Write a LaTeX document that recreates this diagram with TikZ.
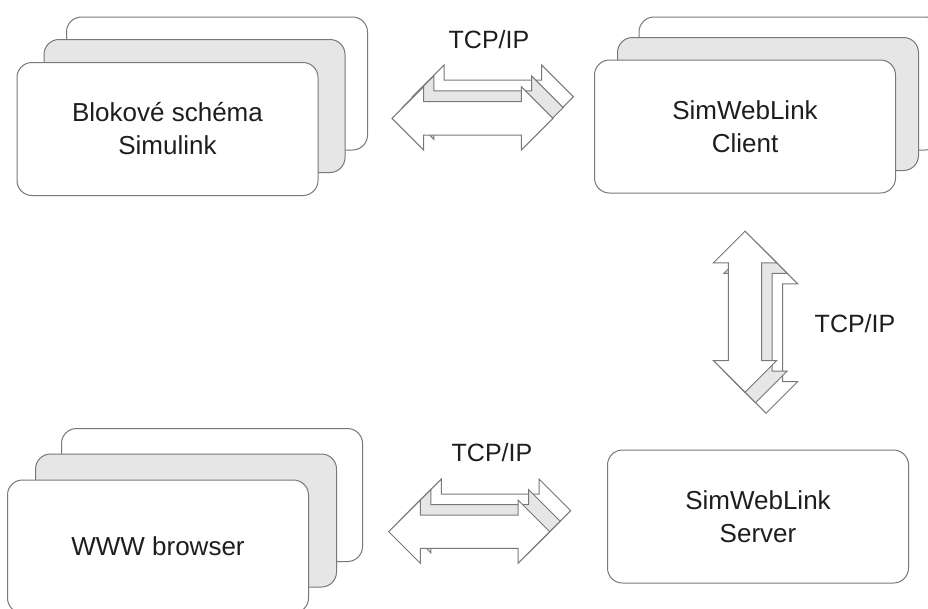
\documentclass[tikz,border=0pt]{standalone}
\usepackage{fontspec}
\setmainfont{Liberation Sans}
\definecolor{ln}{RGB}{120,120,120}
\definecolor{gf}{RGB}{230,230,230}
\definecolor{tx}{RGB}{30,30,30}
\tikzset{
  box/.style={draw=ln, line width=1pt, rounded corners=15pt, minimum width=301pt,
    minimum height=133pt, inner sep=0pt, align=center, text=tx,
    font=\fontsize{26}{33}\selectfont},
  lbl/.style={inner sep=0pt, text=tx, font=\fontsize{25}{30}\selectfont},
  dblarrow/.pic={
    \draw[pic actions] (-80.5,0) -- (-48.8,31.7) -- (-48.8,16.7) -- (48.8,16.7)
      -- (48.8,31.7) -- (80.5,0) -- (48.8,-31.7) -- (48.8,-16.7) -- (-48.8,-16.7)
      -- (-48.8,-31.7) -- cycle;
  },
  arw/.style={draw=ln, line width=1pt, line join=miter, fill=white},
  arwg/.style={draw=ln, line width=1pt, line join=miter, fill=gf},
}
\begin{document}
\begin{tikzpicture}[x=1pt,y=-1pt]
\clip (0,0) rectangle (928,608);
\fill[white] (0,0) rectangle (928,608);

% Simulink stack
\node[box, fill=white] (sim3) at (217,83.5) {};
\node[box, fill=gf]    (sim2) at (194.5,106) {};
\node[box, fill=white] (sim)  at (167.5,129) {Blokové schéma\\Simulink};

% Client stack
\node[box, fill=white] (cli3) at (789.5,83.5) {};
\node[box, fill=gf]    (cli2) at (768,104) {};
\node[box, fill=white] (cli)  at (745,126.5) {SimWebLink\\Client};

% WWW browser stack
\node[box, fill=white] (www3) at (212,495) {};
\node[box, fill=gf]    (www2) at (186,520.5) {};
\node[box, fill=white] (www)  at (158,546.5) {WWW browser};

% Server
\node[box, fill=white] (srv) at (758,516.5) {SimWebLink\\Server};

% top double arrow stack
\pic[arw]  at (492.9,96.7)  {dblarrow};
\pic[arwg] at (482.7,107.5) {dblarrow};
\pic[arw]  at (472.5,118.3) {dblarrow};
\node[lbl] (t1) at (489,40) {TCP/IP};

% vertical double arrow stack
\pic[arw, rotate=90]  at (766,332.7) {dblarrow};
\pic[arwg, rotate=90] at (755.5,322.2) {dblarrow};
\pic[arw, rotate=90]  at (745,311.7) {dblarrow};
\node[lbl] (t2) at (855,324) {TCP/IP};

% bottom double arrow stack
\pic[arw]  at (490.2,510.7) {dblarrow};
\pic[arwg] at (479.7,521.2) {dblarrow};
\pic[arw]  at (469.2,531.7) {dblarrow};
\node[lbl] (t3) at (492,453) {TCP/IP};
\end{tikzpicture}
\end{document}
